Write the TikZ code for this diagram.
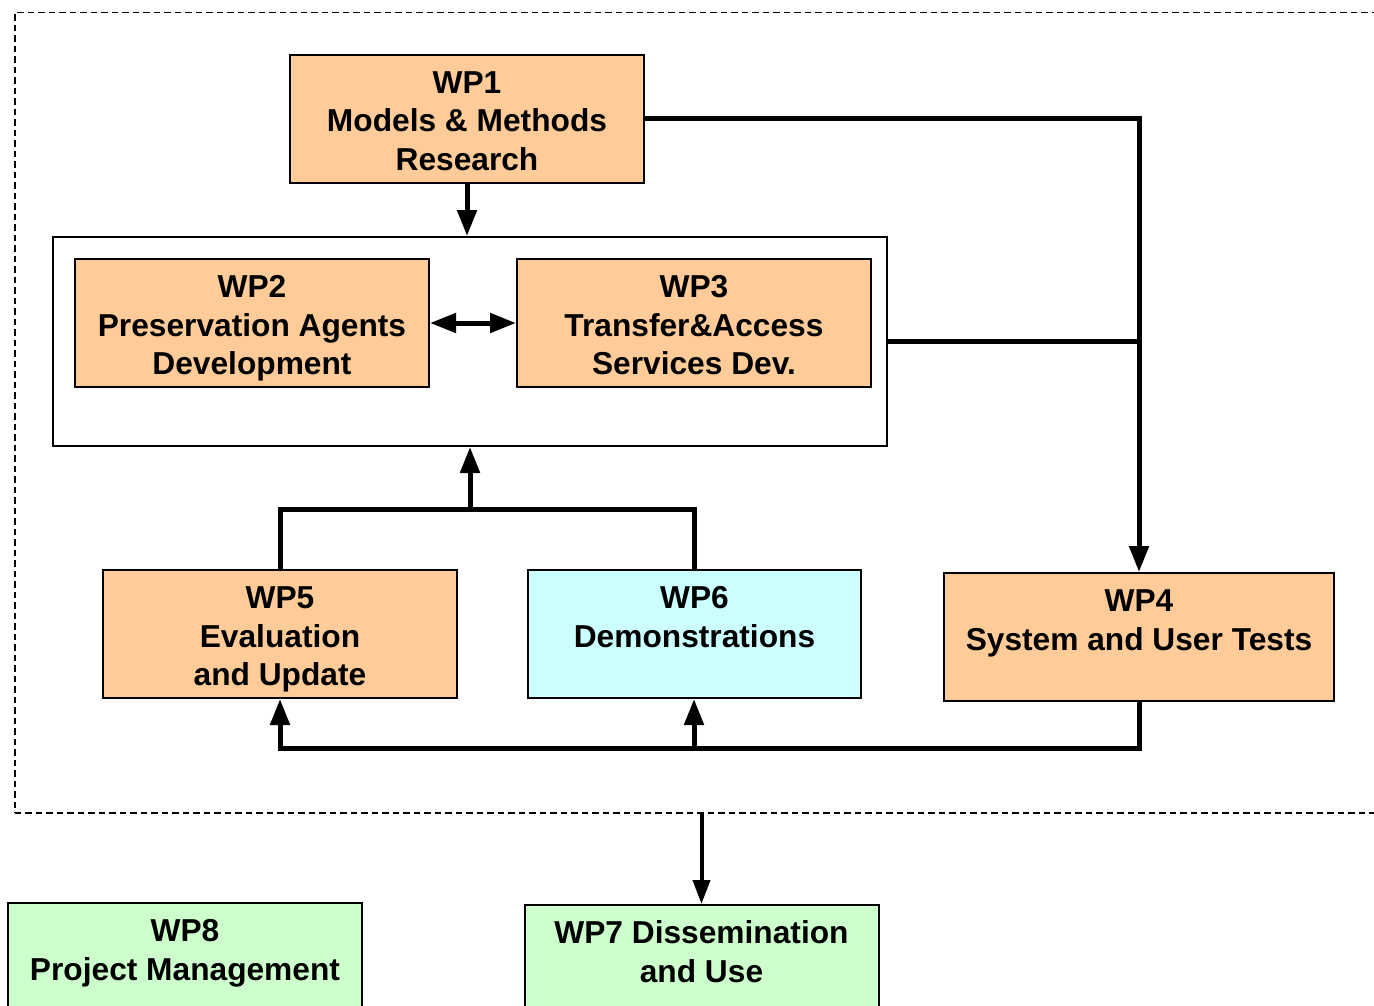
\documentclass[tikz,border=0pt]{standalone}
\usepackage{fontspec}
\setmainfont{Liberation Sans}
\usetikzlibrary{arrows.meta}
\definecolor{wporange}{HTML}{FFCC99}
\definecolor{wpcyan}{HTML}{CCFFFF}
\definecolor{wpgreen}{HTML}{CCFFCC}
\begin{document}
\begin{tikzpicture}[x=1pt, y=-1pt, font=\bfseries\fontsize{31.7}{38.5}\selectfont, line join=miter,
	wp/.style={draw, line width=2pt, fill=wporange, align=center, minimum width=354pt, minimum height=128pt, inner sep=0pt, text height=103pt, text depth=0pt},
	conn/.style={line width=5pt},
	tip/.style={-{Triangle[length=26pt, width=19pt]}}]
	\useasboundingbox (0,0) rectangle (1374,1006);
	\clip (0,0) rectangle (1374,1006);
	\node[draw, dashed, dash pattern=on 6.5pt off 4pt, line width=1.5pt, anchor=north west, minimum width=1400pt, minimum height=800pt] (core) at (14,12) {};
	\node[wp] (wp1) at (467,119) {WP1\\Models \& Methods\\Research};
	\node[draw, line width=2pt, fill=white, minimum width=834pt, minimum height=209pt] (grp) at (470,341.5) {};
	\node[wp] (wp2) at (252,323) {WP2\\Preservation Agents\\Development};
	\node[wp] (wp3) at (694,323) {WP3\\Transfer\&Access\\Services Dev.};
	\node[wp] (wp5) at (280,634) {WP5\\Evaluation\\and Update};
	\node[wp, fill=wpcyan, minimum width=333pt] (wp6) at (694.5,634) {WP6\\Demonstrations\\~};
	\node[wp, minimum width=390pt] (wp4) at (1139,637) {WP4\\System and User Tests\\~};
	\node[wp, fill=wpgreen] (wp7) at (701.5,969) {WP7 Dissemination\\and Use\\~};
	\node[wp, fill=wpgreen] (wp8) at (185,967) {WP8\\Project Management\\~};
	\coordinate (up) at (470,509);
	\coordinate (dn) at (694,748);
	\draw[conn, tip] (wp1.south) -- (wp1.south |- grp.north);
	\draw[conn, {Triangle[length=26pt, width=19pt]}-{Triangle[length=26pt, width=19pt]}] (wp2) -- (wp3);
	\draw[conn, tip] (wp1.east) -| (wp4.north);
	\draw[conn] (grp.east) -- (grp.east -| wp4);
	\draw[conn] (wp5.north) |- (up) -| (wp6.north);
	\draw[conn, tip] (up) -- (grp.south);
	\draw[conn, tip] (wp4.south) |- (wp5.south |- dn) -- (wp5.south);
	\draw[conn, tip] (dn) -- (dn |- wp6.south);
	\draw[line width=4pt, -{Triangle[length=24pt, width=17pt]}] (core.south -| wp7) -- (wp7.north);
\end{tikzpicture}
\end{document}
